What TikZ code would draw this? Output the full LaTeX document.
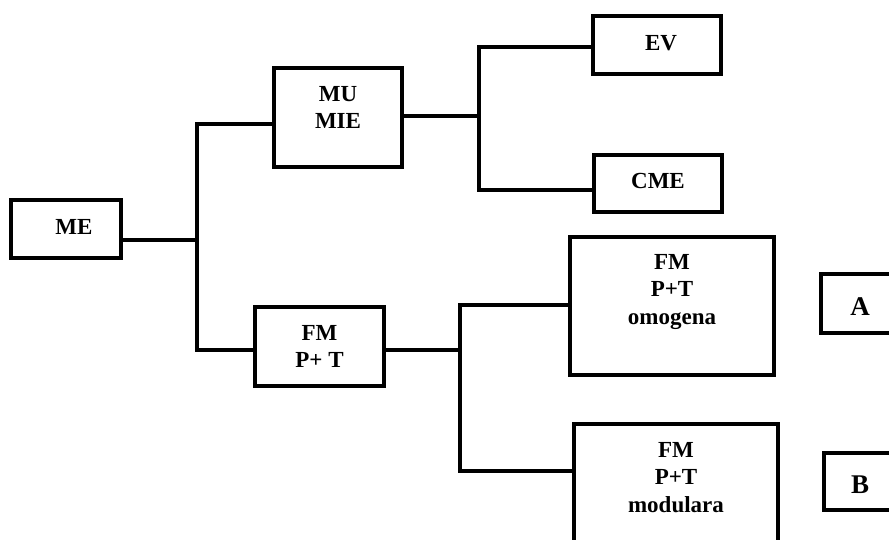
\documentclass[tikz,border=0pt]{standalone}
\usepackage{fontspec}
\setmainfont{Liberation Serif}
\usetikzlibrary{positioning}
\tikzset{
  box/.style={draw=black,line width=4pt,fill=white,align=center,inner sep=3pt,
    font=\fontsize{23}{27.5}\selectfont\bfseries,text height=16pt},
  tag/.style={box,font=\fontsize{27}{30}\selectfont\bfseries,text height=30pt,text depth=7pt},
  wire/.style={line width=3.8pt,draw=black},
}
\begin{document}
\begin{tikzpicture}[x=1pt,y=-1pt]
\useasboundingbox (0,0) rectangle (889,539);
\clip (0,0) rectangle (889,539);
% root and first level
\node[box,minimum width=110pt,minimum height=58pt,text depth=6pt] (me) at (66,229) {\hspace*{16pt}ME};
\node[box,minimum width=128pt,minimum height=99pt,text height=22pt,text depth=0pt] (mu) at (338,117.5) {MU\\MIE};
\node[box,minimum width=129pt,minimum height=79pt,text height=42pt,text depth=0pt] (fm) at (319.5,346.5) {FM\\P+ T};
\coordinate (j0) at (197,240);
\coordinate (j1) at (197,124);
\coordinate (j2) at (197,350);
\draw[wire] (me.east |- j0) -- (j0);
\draw[wire] (mu.west |- j1) -- (j1) -- (j2) -- (fm.west |- j2);
% upper branch
\node[box,minimum width=128pt,minimum height=58pt,text depth=6pt] (ev) at (657,45) {\hspace*{8pt}EV};
\node[box,minimum width=128pt,minimum height=57pt,text depth=7pt] (cme) at (658,183.5) {CME};
\coordinate (k0) at (479,116);
\coordinate (k1) at (479,47);
\coordinate (k2) at (479,190);
\draw[wire] (mu.east |- k0) -- (k0);
\draw[wire] (ev.west |- k1) -- (k1) -- (k2) -- (cme.west |- k2);
% lower branch
\node[box,minimum width=204pt,minimum height=138pt,text height=36pt,text depth=0pt] (omo) at (672,306) {FM\\P+T\\omogena};
\node[box,minimum width=204pt,minimum height=138pt,text height=38pt,text depth=0pt] (mod) at (676,493) {FM\\P+T\\modulara};
\coordinate (m0) at (460,350);
\coordinate (m1) at (460,305);
\coordinate (m2) at (460,471);
\draw[wire] (fm.east |- m0) -- (m0);
\draw[wire] (omo.west |- m1) -- (m1) -- (m2) -- (mod.west |- m2);
% side tags
\node[tag,minimum width=78pt,minimum height=59pt] (ta) at (860,303.5) {A};
\node[tag,minimum width=72pt,minimum height=57pt] (tb) at (860,481.5) {B};
\end{tikzpicture}
\end{document}
